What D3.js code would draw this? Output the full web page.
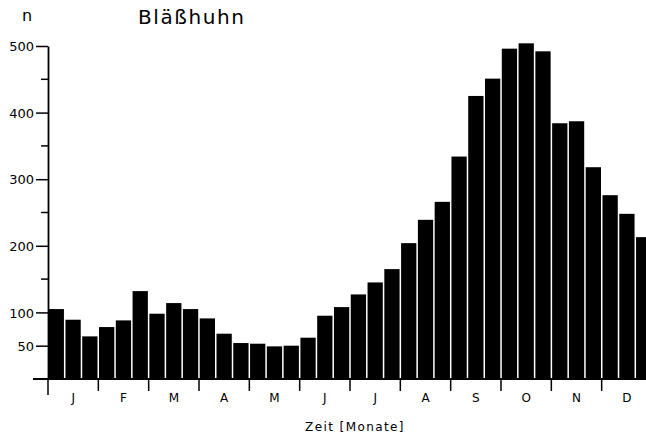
<!DOCTYPE html>
<html>
<head>
<meta charset="utf-8">
<script src="https://cdn.jsdelivr.net/npm/d3@7"></script>
<style>
  body { margin: 0; background: #fff; }
  text { font-family: "DejaVu Sans", sans-serif; fill: #000; }
</style>
</head>
<body>
<div id="chart"></div>
<script>
(function(){

var width = 646,
	height = 437;

// data: three values per month (Dekaden)
var months = ["J", "F", "M", "A", "M", "J", "J", "A", "S", "O", "N", "D"];
var counts = [
	105, 89, 64,
	78, 88, 132,
	98, 114, 105,
	91, 68, 54,
	53, 49, 50,
	62, 95, 108,
	127, 145, 165,
	204, 239, 266,
	334, 425, 451,
	496, 504, 492,
	384, 387, 318,
	276, 248, 213
];
var majorTicks = [50, 100, 200, 300, 400, 500];
var minorTicks = [150, 250, 350, 450];

var svg = d3.select("#chart")
	.append("svg")
	.attr("width", width)
	.attr("height", height)

var y = d3.scaleLinear()
	.domain([0, 500])
	.range([379, 46])

var x = d3.scaleBand()
	.domain(d3.range(counts.length))
	.range([48, 652])
	.paddingInner(0.09)
	.paddingOuter(0.04)

var xm = d3.scaleLinear()
	.domain([0, 12])
	.range([48, 652])

// bars
svg.selectAll("rect.bar")
	.data(counts)
	.enter()
	.append("rect")
	.attr("class", "bar")
	.attr("x", function(d, i){ return x(i) })
	.attr("width", x.bandwidth())
	.attr("y", function(d){ return y(d) })
	.attr("height", function(d){ return y(0) - y(d) })
	.attr("fill", "#000")

// y axis
var yAxis = svg.append("g")
	.attr("transform", "translate(48,0)")
	.call(d3.axisLeft(y)
		.tickValues(majorTicks)
		.tickSize(12)
		.tickSizeOuter(0)
		.tickPadding(2))

yAxis.select(".domain").attr("stroke-width", 1.8)
yAxis.selectAll(".tick line").attr("stroke-width", 1.5)
yAxis.selectAll(".tick text")
	.style("font-size", "13px")
	.attr("dy", "0.36em")

svg.append("g")
	.selectAll("line")
	.data(minorTicks)
	.enter()
	.append("line")
	.attr("x1", 41)
	.attr("x2", 48)
	.attr("y1", function(d){ return y(d) })
	.attr("y2", function(d){ return y(d) })
	.attr("stroke", "#000")
	.attr("stroke-width", 1.5)

// baseline
svg.append("line")
	.attr("x1", 33)
	.attr("x2", width)
	.attr("y1", y(0))
	.attr("y2", y(0))
	.attr("stroke", "#000")
	.attr("stroke-width", 1.8)

// month boundaries
svg.append("g")
	.selectAll("line")
	.data(d3.range(12))
	.enter()
	.append("line")
	.attr("x1", function(d){ return xm(d) })
	.attr("x2", function(d){ return xm(d) })
	.attr("y1", y(0))
	.attr("y2", function(d){ return d == 0 ? y(0) + 16 : y(0) + 12 })
	.attr("stroke", "#000")
	.attr("stroke-width", 1.5)

svg.append("g")
	.selectAll("text")
	.data(months)
	.enter()
	.append("text")
	.attr("x", function(d, i){ return xm(i + 0.5) })
	.attr("y", 402)
	.attr("text-anchor", "middle")
	.style("font-size", "12px")
	.text(function(d){ return d })

// titles
svg.append("text")
	.attr("x", 355)
	.attr("y", 431)
	.attr("text-anchor", "middle")
	.style("font-size", "12px")
	.style("letter-spacing", "1.4px")
	.text("Zeit [Monate]")

svg.append("text")
	.attr("x", 138)
	.attr("y", 24)
	.style("font-size", "20px")
	.style("letter-spacing", "1.6px")
	.text("Bläßhuhn")

svg.append("text")
	.attr("x", 22)
	.attr("y", 21)
	.style("font-size", "16px")
	.text("n")

})();
</script>
</body>
</html>
